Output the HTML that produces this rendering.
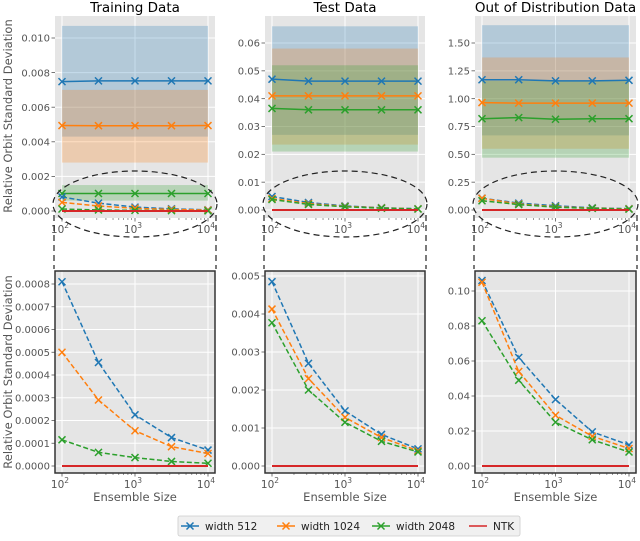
<!DOCTYPE html>
<html><head><meta charset="utf-8"><style>
body{margin:0;background:#fff;width:640px;height:537px;overflow:hidden;font-family:"DejaVu Sans",sans-serif}
svg text{font-family:"DejaVu Sans","Liberation Sans",sans-serif}
</style></head><body>
<svg id="chart" width="640" height="537" viewBox="0 0 640 537"></svg>
<script>
const ensembleSizes=[100,316,1000,3162,10000];
const seriesNames=["width 512","width 1024","width 2048","NTK"];
const colors=["#1f77b4","#ff7f0e","#2ca02c","#d62728"];
const xTickLabels=["2","3","4"];
// Training Data
const trainTopMean=[[0.00748,0.00752,0.00752,0.00752,0.00752],[0.00494,0.00493,0.00493,0.00493,0.00494],[0.00101,0.00101,0.00101,0.00101,0.00101]];
const trainTopLow=[0.0043,0.0028,0.0006];
const trainTopHigh=[0.0107,0.0070,0.0015];
const trainBottom=[[0.00081,0.000455,0.000225,0.000125,0.00007],[0.0005,0.00029,0.000155,0.000085,0.000055],[0.000115,0.00006,0.000037,0.00002,0.000012]];
const trainTopTicks=[0,0.002,0.004,0.006,0.008,0.010];
const trainTopTickLabels=["0.000","0.002","0.004","0.006","0.008","0.010"];
const trainBotTicks=[0,0.0001,0.0002,0.0003,0.0004,0.0005,0.0006,0.0007,0.0008];
const trainBotTickLabels=["0.0000","0.0001","0.0002","0.0003","0.0004","0.0005","0.0006","0.0007","0.0008"];
// Test Data
const testTopMean=[[0.047,0.0463,0.0463,0.0463,0.0463],[0.041,0.041,0.041,0.041,0.041],[0.0365,0.036,0.036,0.036,0.036]];
const testTopLow=[0.027,0.0235,0.021];
const testTopHigh=[0.066,0.058,0.052];
const testBottom=[[0.00485,0.0027,0.00145,0.00083,0.00045],[0.00413,0.0023,0.00128,0.00075,0.0004],[0.00377,0.002,0.00115,0.00065,0.00037]];
const testTopTicks=[0,0.01,0.02,0.03,0.04,0.05,0.06];
const testTopTickLabels=["0.00","0.01","0.02","0.03","0.04","0.05","0.06"];
const testBotTicks=[0,0.001,0.002,0.003,0.004,0.005];
const testBotTickLabels=["0.000","0.001","0.002","0.003","0.004","0.005"];
// OOD
const oodTopMean=[[1.17,1.17,1.16,1.16,1.165],[0.965,0.96,0.96,0.96,0.96],[0.82,0.83,0.815,0.82,0.82]];
const oodTopLow=[0.67,0.55,0.47];
const oodTopHigh=[1.66,1.37,1.16];
const oodBottom=[[0.106,0.062,0.038,0.0195,0.012],[0.105,0.054,0.029,0.017,0.010],[0.083,0.049,0.025,0.015,0.008]];
const oodTopTicks=[0,0.25,0.5,0.75,1.0,1.25,1.5];
const oodTopTickLabels=["0.00","0.25","0.50","0.75","1.00","1.25","1.50"];
const oodBotTicks=[0,0.02,0.04,0.06,0.08,0.10];
const oodBotTickLabels=["0.00","0.02","0.04","0.06","0.08","0.10"];

const NS="http://www.w3.org/2000/svg";
const svg=document.getElementById('chart');
function el(tag,attrs,parent,txt){const e=document.createElementNS(NS,tag);for(const k in attrs)e.setAttribute(k,attrs[k]);if(txt!==undefined)e.textContent=txt;(parent||svg).appendChild(e);return e;}

const panels=[
 {title:"Training Data",x0:55,x1:215,top:{mean:trainTopMean,low:trainTopLow,high:trainTopHigh,ticks:trainTopTicks,labels:trainTopTickLabels,v0:0,p0:211,v1:0.010,p1:38},
  bot:{vals:trainBottom,ticks:trainBotTicks,labels:trainBotTickLabels,v0:0,p0:466,v1:0.0008,p1:284},ylabel:true},
 {title:"Test Data",x0:265,x1:425,top:{mean:testTopMean,low:testTopLow,high:testTopHigh,ticks:testTopTicks,labels:testTopTickLabels,v0:0,p0:210,v1:0.06,p1:43},
  bot:{vals:testBottom,ticks:testBotTicks,labels:testBotTickLabels,v0:0,p0:466,v1:0.005,p1:276}},
 {title:"Out of Distribution Data",x0:475,x1:636,top:{mean:oodTopMean,low:oodTopLow,high:oodTopHigh,ticks:oodTopTicks,labels:oodTopTickLabels,v0:0,p0:210,v1:1.5,p1:43},
  bot:{vals:oodBottom,ticks:oodBotTicks,labels:oodBotTickLabels,v0:0,p0:466,v1:0.10,p1:291}}
];

function cross(g,x,y,c){el('path',{d:`M${x-3.5},${y-3.5}L${x+3.5},${y+3.5}M${x-3.5},${y+3.5}L${x+3.5},${y-3.5}`,stroke:c,'stroke-width':1.5,fill:'none'},g);}

panels.forEach((p,pi)=>{
  const xs=v=>p.x0+7+(Math.log10(v)-2)/2*(p.x1-p.x0-14);
  const pg=el('g',{},svg);
  
  
  const t=el('text',{x:(p.x0+p.x1)/2,y:12,'text-anchor':'middle','font-size':13.5,fill:'#000'},pg,p.title);
  
  
  [['top',16,218],['bot',271,473]].forEach(([key,yt,yb])=>{
    const d=p[key];
    const ys=v=>d.p0+(v-d.v0)/(d.v1-d.v0)*(d.p1-d.p0);
    const g=el('g',{},pg);
    
    
    el('rect',{x:p.x0,y:yt,width:p.x1-p.x0,height:yb-yt,fill:'#e5e5e5'},g);
    d.ticks.forEach((tv,i)=>{
      const y=ys(tv);
      el('line',{x1:p.x0,x2:p.x1,y1:y,y2:y,stroke:'#fff','stroke-width':1},g);
      el('line',{x1:p.x0-3.5,x2:p.x0,y1:y,y2:y,stroke:'#555','stroke-width':0.8},g);
      const lt=el('text',{x:p.x0-5,y:y+3.7,'text-anchor':'end','font-size':10,fill:'#555'},g,d.labels[i]);
      
      
    });
    [100,1000,10000].forEach((v,i)=>{
      const x=xs(v);
      el('line',{x1:x,x2:x,y1:yt,y2:yb,stroke:'#fff','stroke-width':1},g);
      el('line',{x1:x,x2:x,y1:yb,y2:yb+3.5,stroke:'#555','stroke-width':0.8},g);
      const lt=el('text',{x:x-2,y:yb+15,'text-anchor':'middle','font-size':10.5,fill:'#555'},g,'10');
      el('tspan',{'font-size':7.5,dy:-5},lt,xTickLabels[i]);
      
      
    });
    for(let dec=2;dec<4;dec++)for(let m=2;m<10;m++){const x=xs(m*Math.pow(10,dec));el('line',{x1:x,x2:x,y1:yb,y2:yb+2,stroke:'#555','stroke-width':0.6},g);}
    if(key==='top'){
      [0,1,2].forEach(s=>{
        const xa=xs(ensembleSizes[0]),xb=xs(ensembleSizes[4]);
        const band=el('rect',{x:xa,y:ys(d.high[s]),width:xb-xa,height:ys(d.low[s])-ys(d.high[s]),fill:colors[s],'fill-opacity':0.25},g);
        
        
      });
      [0,1,2].forEach(s=>{
        const pts=d.mean[s].map((v,i)=>[xs(ensembleSizes[i]),ys(v)]);
        const ln=el('polyline',{points:pts.map(q=>q.join(',')).join(' '),fill:'none',stroke:colors[s],'stroke-width':1.5},g);
        
        
        pts.forEach(q=>cross(g,q[0],q[1],colors[s]));
      });
      [0,1,2].forEach(s=>{
        const pts=p.bot.vals[s].map((v,i)=>[xs(ensembleSizes[i]),ys(v)]);
        el('polyline',{points:pts.map(q=>q.join(',')).join(' '),fill:'none',stroke:colors[s],'stroke-width':1.5,'stroke-dasharray':'5,2.5'},g);
        pts.forEach(q=>cross(g,q[0],q[1],colors[s]));
      });
    } else {
      [0,1,2].forEach(s=>{
        const pts=d.vals[s].map((v,i)=>[xs(ensembleSizes[i]),ys(v)]);
        const ln=el('polyline',{points:pts.map(q=>q.join(',')).join(' '),fill:'none',stroke:colors[s],'stroke-width':1.5,'stroke-dasharray':'5,2.5'},g);
        
        
        pts.forEach(q=>cross(g,q[0],q[1],colors[s]));
      });
    }
    const ntk=el('line',{x1:xs(100),x2:xs(10000),y1:ys(0),y2:ys(0),stroke:colors[3],'stroke-width':2},g);
    
    
    if(key==='bot'){
      el('rect',{x:p.x0,y:yt,width:p.x1-p.x0,height:yb-yt,fill:'none',stroke:'#333','stroke-width':1.5},g);
      const xl=el('text',{x:(p.x0+p.x1)/2,y:yb+28,'text-anchor':'middle','font-size':11.5,fill:'#555'},g,'Ensemble Size');
      
      
    }
  });
  const cx=(p.x0+p.x1)/2;
  const ell=el('ellipse',{cx:cx,cy:204,rx:(p.x1-p.x0)/2+2,ry:33,fill:'none',stroke:'#222','stroke-width':1.2,'stroke-dasharray':'6,4'},pg);
  
  
  [p.x0-1,p.x1+1].forEach(x=>el('line',{x1:x,x2:x,y1:215,y2:269,stroke:'#222','stroke-width':1.2,'stroke-dasharray':'6,4'},pg));
  if(p.ylabel){
    [[116],[372]].forEach(([cy])=>{
      const yl=el('text',{x:0,y:0,transform:`translate(12,${cy}) rotate(-90)`,'text-anchor':'middle','font-size':11.5,fill:'#555'},pg,'Relative Orbit Standard Deviation');
      
      
    });
  }
});
const lg=el('g',{},svg);


el('rect',{x:178,y:516,width:342,height:20,rx:2,fill:'#f0f0f0',stroke:'#ccc','stroke-width':0.8},lg);
const lx=[181,277,372,469];
seriesNames.forEach((n,i)=>{
  const e=el('g',{},lg);
  
  
  el('line',{x1:lx[i],x2:lx[i]+18,y1:526,y2:526,stroke:colors[i],'stroke-width':1.5},e);
  if(i<3)cross(e,lx[i]+9,526,colors[i]);
  el('text',{x:lx[i]+24,y:530,'font-size':10.5,fill:'#222'},e,n);
});
</script>
</body></html>
